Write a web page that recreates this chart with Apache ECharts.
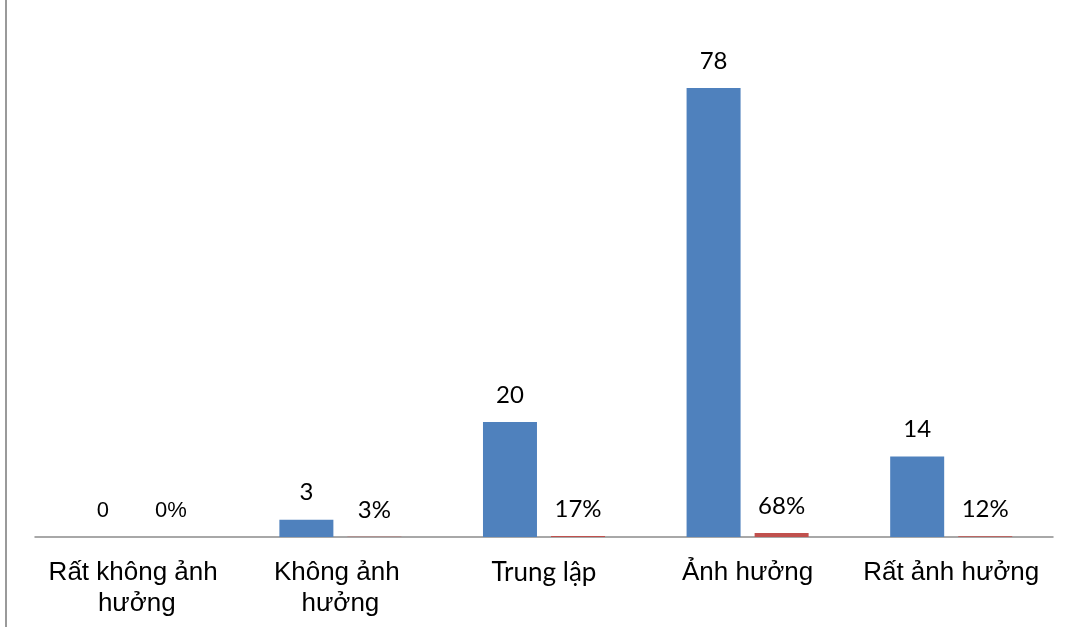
<!DOCTYPE html>
<html>
<head>
<meta charset="utf-8">
<script src="https://cdn.jsdelivr.net/npm/echarts@6/dist/echarts.min.js"></script>
<style>
  html, body { margin: 0; padding: 0; background: #fff; }
  #chart { width: 1078px; height: 627px; }
</style>
</head>
<body>
<div id="chart"></div>
<script>
// Survey responses: number of answers and share of answers per level of influence
const categories = ['Rất không ảnh hưởng', 'Không ảnh hưởng', 'Trung lập', 'Ảnh hưởng', 'Rất ảnh hưởng'];
const counts = [0, 3, 20, 78, 14];
const shares = [0, 0.03, 0.17, 0.68, 0.12];

const ARIAL = '"Liberation Sans", Arial, sans-serif';
const CAL = 'Lato, "Open Sans", sans-serif';
// the first group uses a different typeface for its value labels
const labelFont = [ARIAL, CAL, CAL, CAL, CAL];
const labelSize = [22, 24, 24, 24, 24];

const chart = echarts.init(document.getElementById('chart'));

const catData = categories.map((c, i) => (
  i === 2 ? { value: c, textStyle: { fontFamily: CAL, fontSize: 26 } } : c
));

chart.setOption({
  animation: false,
  backgroundColor: '#fff',
  grid: { left: 35, right: 25, top: 19, bottom: 90 },
  xAxis: {
    type: 'category',
    data: catData,
    axisLine: { lineStyle: { color: '#8c8c8c', width: 1.5 } },
    axisTick: { show: false },
    axisLabel: {
      color: '#000',
      fontFamily: ARIAL,
      fontSize: 26,
      margin: 20,
      lineHeight: 31,
      width: 222,
      overflow: 'break',
      interval: 0
    }
  },
  yAxis: {
    type: 'value',
    min: 0,
    max: 90,
    show: false,
    splitLine: { show: false }
  },
  series: [
    {
      name: 'Số lượng',
      type: 'bar',
      barWidth: 54,
      barGap: '26%',
      itemStyle: { color: '#4F81BD' },
      data: counts.map((v, i) => ({
        value: v,
        label: { fontFamily: labelFont[i], fontSize: labelSize[i] }
      })),
      label: {
        show: true,
        position: 'top',
        distance: 15,
        color: '#000'
      }
    },
    {
      name: 'Tỷ lệ',
      type: 'bar',
      barWidth: 54,
      itemStyle: { color: '#C0504D' },
      data: shares.map((v, i) => ({
        value: v,
        label: { fontFamily: labelFont[i], fontSize: labelSize[i] }
      })),
      label: {
        show: true,
        position: 'top',
        distance: 15,
        color: '#000',
        formatter: p => Math.round(p.value * 100) + '%'
      }
    }
  ],
  graphic: [
    {
      type: 'line',
      shape: { x1: 6, y1: 0, x2: 6, y2: 627 },
      style: { stroke: '#9a9a9a', lineWidth: 2 }
    }
  ]
});
</script>
</body>
</html>
